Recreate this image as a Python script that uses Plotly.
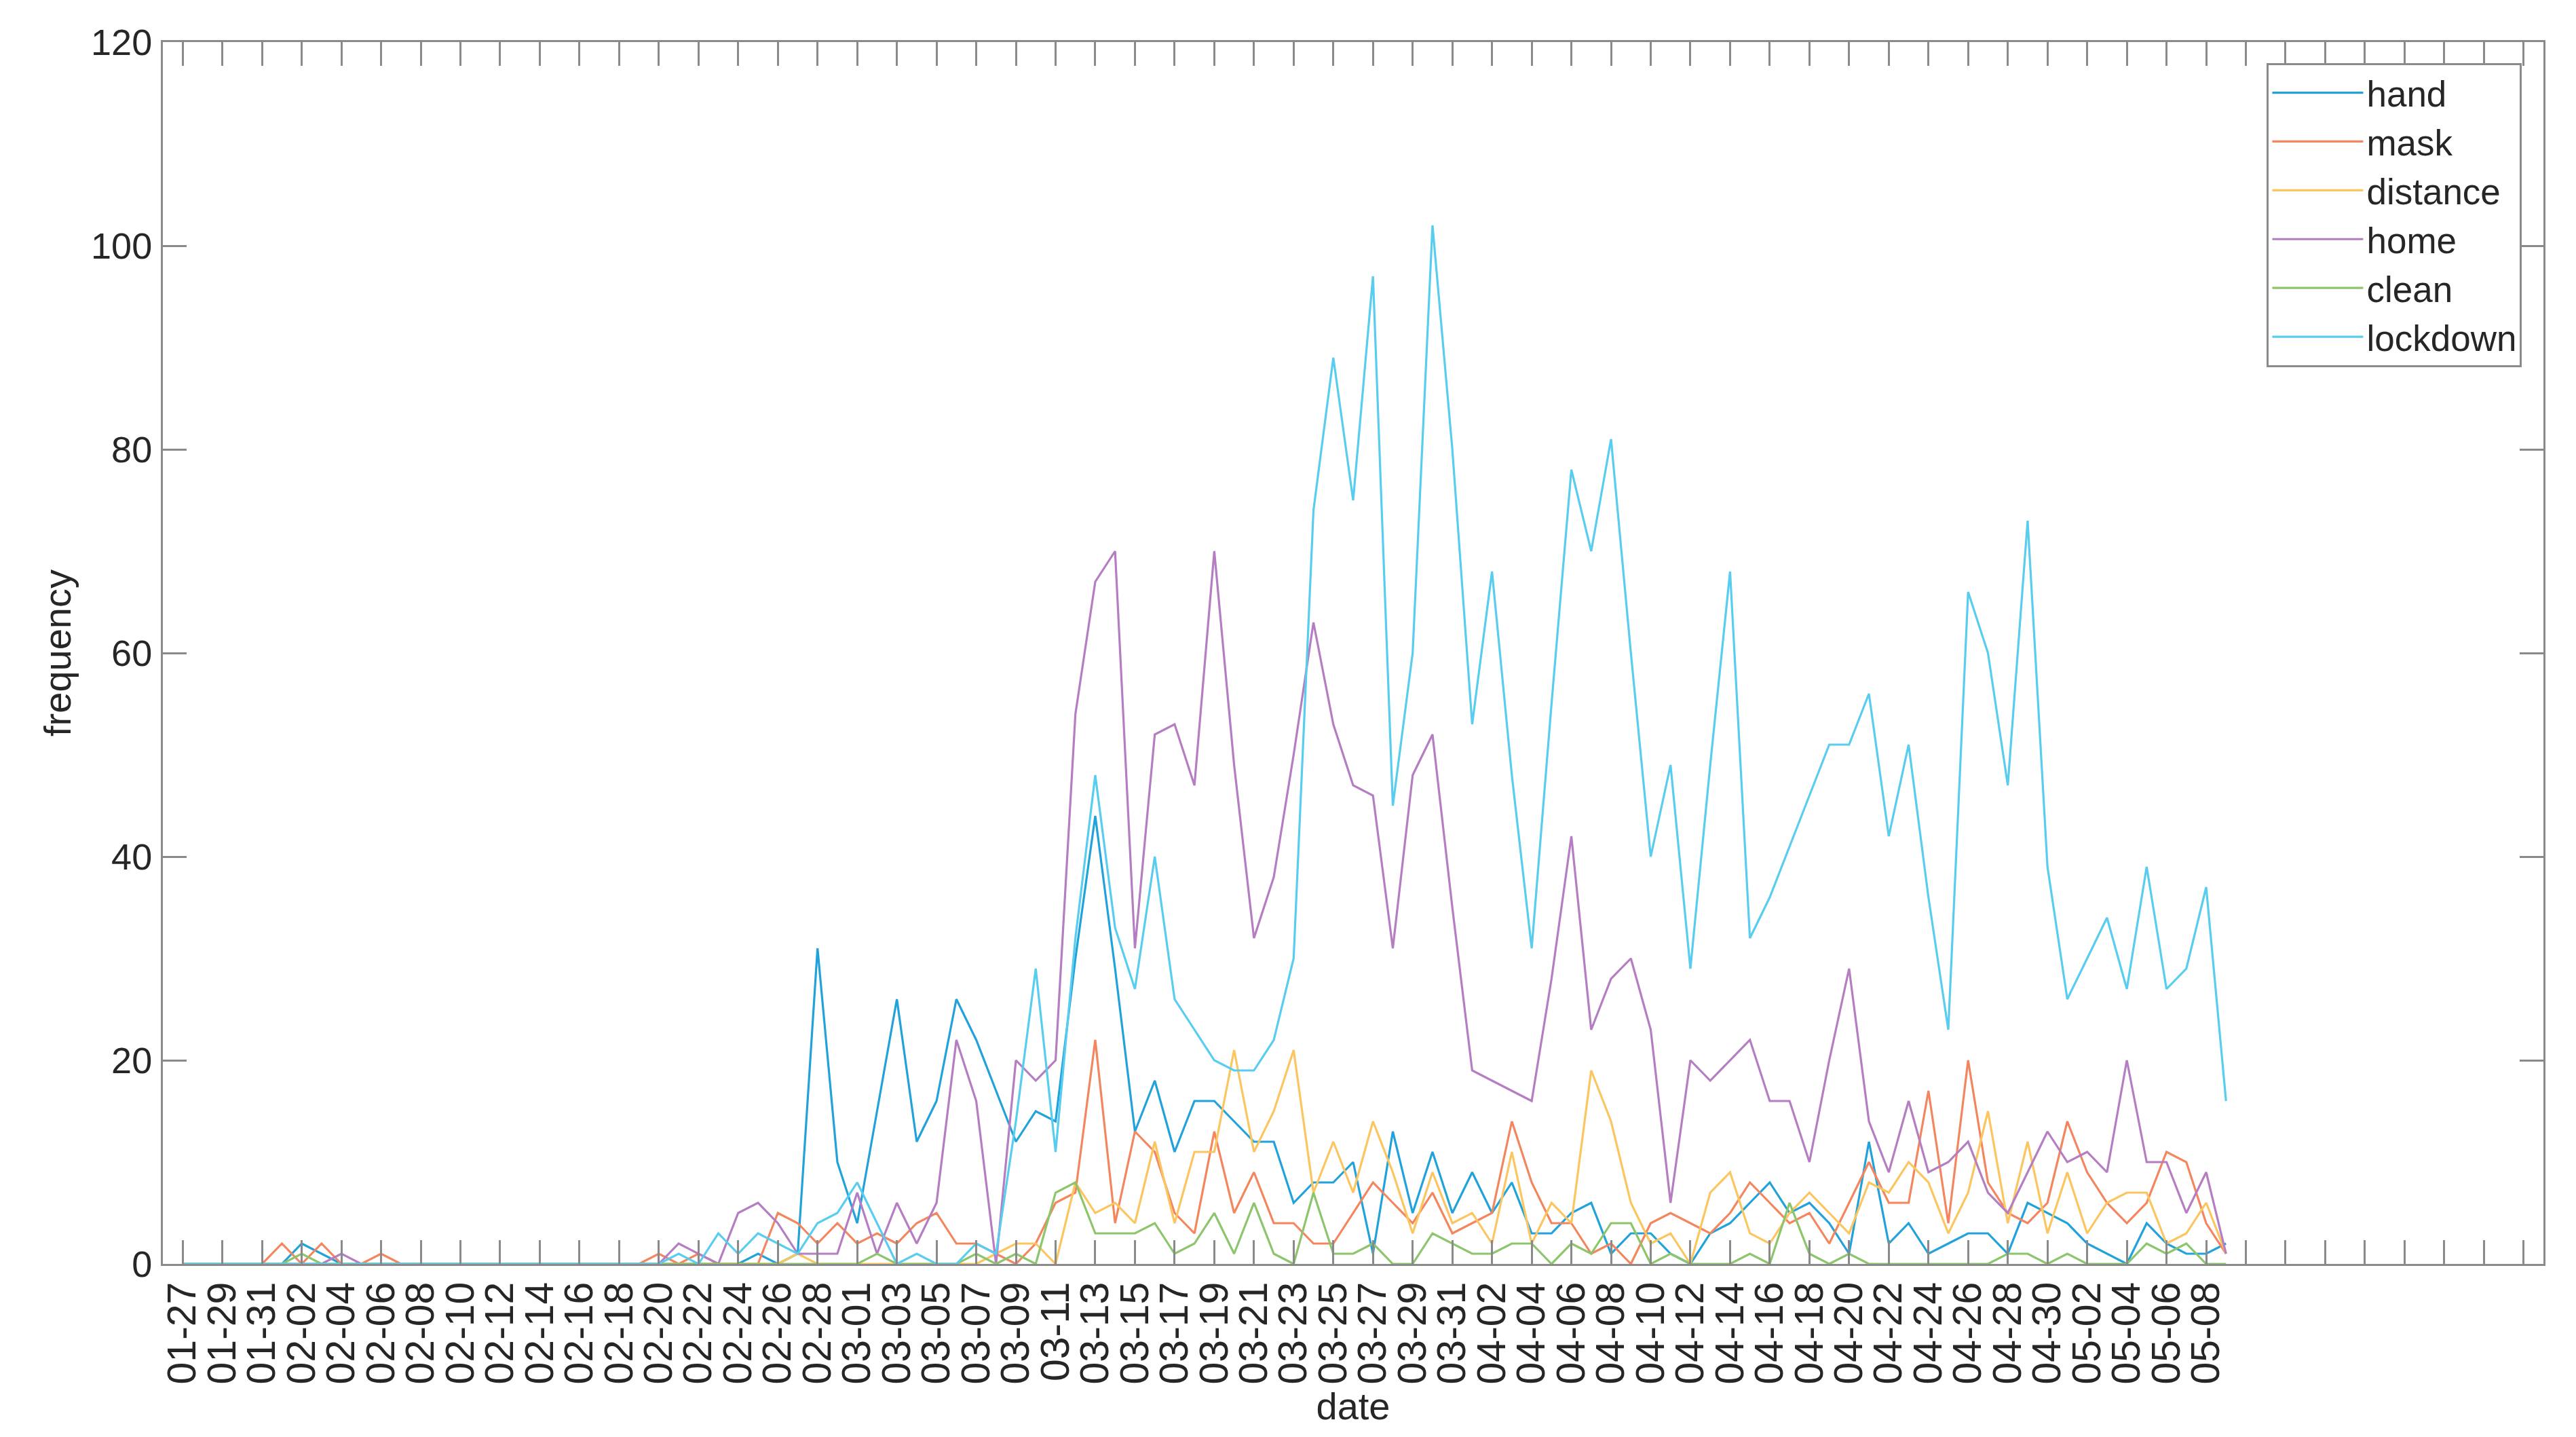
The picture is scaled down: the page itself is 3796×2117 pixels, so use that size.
import pandas as pd
import plotly.graph_objects as go

# daily counts, 2020-01-27 .. 2020-05-09
dates = pd.date_range("2020-01-27", "2020-05-09", freq="D")

# ticks every 2 days across the whole axis, labelled only up to 05-08
tick_dates = pd.date_range("2020-01-27", "2020-05-24", freq="2D")
last_label = pd.Timestamp("2020-05-08")
tick_text = [d.strftime("%m-%d") if d <= last_label else "" for d in tick_dates]

hand = [0, 0, 0, 0, 0, 0, 2, 1, 0, 0,
        0, 0, 0, 0, 0, 0, 0, 0, 0, 0,
        0, 0, 0, 0, 0, 0, 0, 0, 0, 1,
        0, 1, 31, 10, 4, 15, 26, 12, 16, 26,
        22, 17, 12, 15, 14, 30, 44, 29, 13, 18,
        11, 16, 16, 14, 12, 12, 6, 8, 8, 10,
        1, 13, 5, 11, 5, 9, 5, 8, 3, 3,
        5, 6, 1, 3, 3, 1, 0, 3, 4, 6,
        8, 5, 6, 4, 1, 12, 2, 4, 1, 2,
        3, 3, 1, 6, 5, 4, 2, 1, 0, 4,
        2, 1, 1, 2]

mask = [0, 0, 0, 0, 0, 2, 0, 2, 0, 0,
        1, 0, 0, 0, 0, 0, 0, 0, 0, 0,
        0, 0, 0, 0, 1, 0, 1, 0, 0, 0,
        5, 4, 2, 4, 2, 3, 2, 4, 5, 2,
        2, 1, 0, 2, 6, 7, 22, 4, 13, 11,
        5, 3, 13, 5, 9, 4, 4, 2, 2, 5,
        8, 6, 4, 7, 3, 4, 5, 14, 8, 4,
        4, 1, 2, 0, 4, 5, 4, 3, 5, 8,
        6, 4, 5, 2, 6, 10, 6, 6, 17, 4,
        20, 8, 5, 4, 6, 14, 9, 6, 4, 6,
        11, 10, 4, 1]

distance = [0, 0, 0, 0, 0, 0, 0, 0, 0, 0,
            0, 0, 0, 0, 0, 0, 0, 0, 0, 0,
            0, 0, 0, 0, 0, 0, 0, 0, 0, 0,
            0, 1, 0, 0, 0, 0, 0, 0, 0, 0,
            0, 1, 2, 2, 0, 8, 5, 6, 4, 12,
            4, 11, 11, 21, 11, 15, 21, 7, 12, 7,
            14, 9, 3, 9, 4, 5, 2, 11, 2, 6,
            4, 19, 14, 6, 2, 3, 0, 7, 9, 3,
            2, 5, 7, 5, 3, 8, 7, 10, 8, 3,
            7, 15, 4, 12, 3, 9, 3, 6, 7, 7,
            2, 3, 6, 1]

home = [0, 0, 0, 0, 0, 0, 0, 0, 1, 0,
        0, 0, 0, 0, 0, 0, 0, 0, 0, 0,
        0, 0, 0, 0, 0, 2, 1, 0, 5, 6,
        4, 1, 1, 1, 7, 1, 6, 2, 6, 22,
        16, 0, 20, 18, 20, 54, 67, 70, 31, 52,
        53, 47, 70, 49, 32, 38, 50, 63, 53, 47,
        46, 31, 48, 52, 35, 19, 18, 17, 16, 28,
        42, 23, 28, 30, 23, 6, 20, 18, 20, 22,
        16, 16, 10, 20, 29, 14, 9, 16, 9, 10,
        12, 7, 5, 9, 13, 10, 11, 9, 20, 10,
        10, 5, 9, 1]

clean = [0, 0, 0, 0, 0, 0, 1, 0, 0, 0,
         0, 0, 0, 0, 0, 0, 0, 0, 0, 0,
         0, 0, 0, 0, 0, 0, 0, 0, 0, 0,
         0, 0, 0, 0, 0, 1, 0, 0, 0, 0,
         1, 0, 1, 0, 7, 8, 3, 3, 3, 4,
         1, 2, 5, 1, 6, 1, 0, 7, 1, 1,
         2, 0, 0, 3, 2, 1, 1, 2, 2, 0,
         2, 1, 4, 4, 0, 1, 0, 0, 0, 1,
         0, 6, 1, 0, 1, 0, 0, 0, 0, 0,
         0, 0, 1, 1, 0, 1, 0, 0, 0, 2,
         1, 2, 0, 0]

lockdown = [0, 0, 0, 0, 0, 0, 0, 0, 0, 0,
            0, 0, 0, 0, 0, 0, 0, 0, 0, 0,
            0, 0, 0, 0, 0, 1, 0, 3, 1, 3,
            2, 1, 4, 5, 8, 4, 0, 1, 0, 0,
            2, 1, 14, 29, 11, 32, 48, 33, 27, 40,
            26, 23, 20, 19, 19, 22, 30, 74, 89, 75,
            97, 45, 60, 102, 80, 53, 68, 48, 31, 55,
            78, 70, 81, 60, 40, 49, 29, 49, 68, 32,
            36, 41, 46, 51, 51, 56, 42, 51, 36, 23,
            66, 60, 47, 73, 39, 26, 30, 34, 27, 39,
            27, 29, 37, 16]

series = [
    ("hand", hand, "#22a2da"),
    ("mask", mask, "#f4865f"),
    ("distance", distance, "#fbc660"),
    ("home", home, "#b57dc2"),
    ("clean", clean, "#8dc56c"),
    ("lockdown", lockdown, "#58cdf0"),
]

fig = go.Figure()
for name, values, color in series:
    fig.add_trace(go.Scatter(x=dates, y=values, name=name, mode="lines",
                             line=dict(color=color, width=3.2)))

axis_color = "#8a8a8a"
font_color = "#262626"

fig.update_layout(
    width=3796, height=2117,
    margin=dict(l=240, r=48, t=62, b=255),
    paper_bgcolor="white", plot_bgcolor="white",
    font=dict(family="Liberation Sans, Arial", size=54, color=font_color),
    legend=dict(x=0.991, y=0.983, xanchor="right", yanchor="top",
                bgcolor="white", bordercolor=axis_color, borderwidth=3,
                font=dict(size=53), itemwidth=134, tracegroupgap=0),
    showlegend=True,
)

fig.update_xaxes(
    type="date",
    range=["2020-01-26", "2020-05-25"],
    tickmode="array", tickvals=tick_dates, ticktext=tick_text,
    tickangle=-90,
    ticks="inside", ticklen=35, tickwidth=3, tickcolor=axis_color,
    showline=True, linecolor=axis_color, linewidth=3, mirror="ticks",
    showgrid=False, zeroline=False,
    tickfont=dict(size=59, color=font_color),
    title=dict(text="date", standoff=12, font=dict(size=56)),
)

fig.update_yaxes(
    range=[0, 120], dtick=20,
    ticks="inside", ticklen=35, tickwidth=3, tickcolor=axis_color,
    showline=True, linecolor=axis_color, linewidth=3, mirror="ticks",
    showgrid=False, zeroline=False,
    tickfont=dict(size=54, color=font_color),
    ticklabelstandoff=2,
    title=dict(text="frequency", standoff=12, font=dict(size=56)),
)

fig.write_html("out.html",
               config={"displayModeBar": False},
               post_script="document.body.style.margin='0';"
                           "document.body.style.overflow='hidden';")
